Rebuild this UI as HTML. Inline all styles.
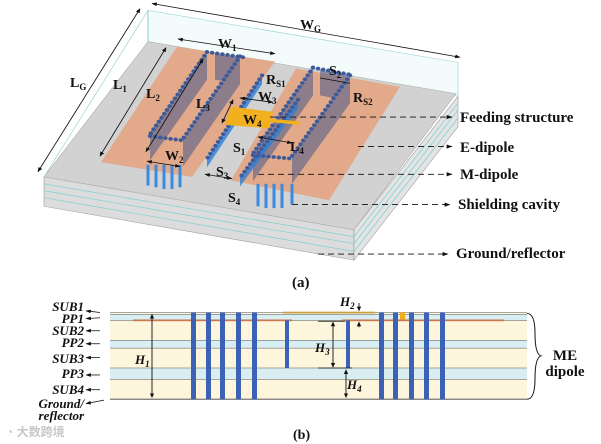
<!DOCTYPE html>
<html><head><meta charset="utf-8"><style>
body{margin:0;background:#fff}
svg{display:block}
text{font-family:"Liberation Serif",serif;font-weight:bold;fill:#111}
</style></head><body>
<svg width="601" height="444" viewBox="0 0 601 444" xmlns="http://www.w3.org/2000/svg">
<defs>
<marker id="a" viewBox="0 0 10 10" refX="9" refY="5" markerWidth="6" markerHeight="6" orient="auto"><path d="M0,1 L10,5 L0,9z" fill="#111"/></marker>
<marker id="b" viewBox="0 0 10 10" refX="1" refY="5" markerWidth="6" markerHeight="6" orient="auto"><path d="M10,1 L0,5 L10,9z" fill="#111"/></marker>
</defs>
<g transform="scale(1,0.867)">
<polygon points="44,204 354,265 354,300 44,238" fill="#dcdcdc" stroke="#999" stroke-width="0.6"/>
<polygon points="354,265 458,111 458,146 354,300" fill="#e4e4e4" stroke="#999" stroke-width="0.6"/>
<g stroke="#7fd0d0" stroke-width="0.8" fill="none">
<polyline points="44,212 354,273 458,119"/><polyline points="44,220 354,281 458,127"/><polyline points="44,228 354,290 458,136"/>
<polyline points="148,20 458,78"/><polyline points="148,28 458,86"/><polyline points="148,36 458,94"/><polyline points="148,42 458,100"/>
</g>
<polygon points="148,12 458,72 458,111 148,48" fill="#f4fbfb" stroke="#8cc" stroke-width="0.6"/>
<line x1="148" y1="12" x2="148" y2="48" stroke="#8cc"/>
<polygon points="148,48 456,108 354,265 44,204" fill="#d2d2d2" stroke="#aaa" stroke-width="0.6"/>
<line x1="148" y1="12" x2="44" y2="204" stroke="#8cc" stroke-width="0.6"/>
<polygon points="177,54 275,71 192,204 101,187" fill="#e2a98a"/>
<polygon points="296,79 400,100 329,231 231,208" fill="#e2a98a"/>
<g fill="#55608a" opacity="0.6">
<polygon points="207,60 150,153 150,185 207,92"/>
<polygon points="240,65 183,160 183,192 240,97"/>
<polygon points="313,78 253,177 253,209 313,110"/>
<polygon points="350,87 292,180 292,212 350,119"/>
<polygon points="215,62 238,66 238,96 215,92"/>
<polygon points="320,80 348,86 348,116 320,110"/>
</g>
<g fill="#2e7fd6" opacity="0.8">
<polygon points="262,87 207,183 207,193 262,97"/>
<polygon points="298,115 240,205 240,215 298,125"/>
</g>
<g stroke="#3a8be0" stroke-width="3">
<line x1="148" y1="190" x2="148" y2="214"/><line x1="156" y1="190" x2="156" y2="216"/><line x1="164" y1="190" x2="164" y2="218"/><line x1="172" y1="190" x2="172" y2="218"/><line x1="180" y1="190" x2="180" y2="216"/>
<line x1="258" y1="212" x2="258" y2="238"/><line x1="266" y1="212" x2="266" y2="240"/><line x1="274" y1="212" x2="274" y2="240"/><line x1="282" y1="212" x2="282" y2="240"/><line x1="292" y1="212" x2="292" y2="236"/>
</g>
<g stroke="#3d5a9a" stroke-width="4.5" stroke-linecap="round" stroke-dasharray="0 5.2" fill="none">
<line x1="207" y1="60" x2="150" y2="155"/>
<line x1="240" y1="65" x2="183" y2="160"/>
<line x1="207" y1="60" x2="243" y2="66"/>
<line x1="150" y1="157" x2="183" y2="162"/>
<line x1="313" y1="78" x2="253" y2="177"/>
<line x1="350" y1="87" x2="292" y2="180"/>
<line x1="313" y1="78" x2="350" y2="86"/>
<line x1="253" y1="179" x2="292" y2="183"/>
<line x1="262" y1="87" x2="207" y2="183"/>
<line x1="298" y1="115" x2="240" y2="205"/>
</g>
<polygon points="231,123 273,129 269,148 225,144" fill="#f2b01e"/>
<polygon points="270,137 300,140 300,144 270,141" fill="#f2b01e"/>
<g stroke="#111" stroke-width="0.9" fill="none">
<line x1="152" y1="4" x2="460" y2="66" marker-start="url(#b)" marker-end="url(#a)"/>
<line x1="140" y1="10" x2="38" y2="198" marker-start="url(#b)" marker-end="url(#a)"/>
<line x1="178" y1="45" x2="275" y2="62" marker-start="url(#b)" marker-end="url(#a)"/>
<line x1="166" y1="55" x2="100" y2="180" marker-start="url(#b)" marker-end="url(#a)"/>
<line x1="203" y1="68" x2="146" y2="175" marker-start="url(#b)" marker-end="url(#a)"/>
<line x1="233" y1="115" x2="222" y2="142" marker-start="url(#b)" marker-end="url(#a)"/>
<line x1="240" y1="113" x2="273" y2="118" marker-start="url(#b)" marker-end="url(#a)"/>
<line x1="147" y1="186" x2="180" y2="192" marker-start="url(#b)" marker-end="url(#a)"/>
<line x1="205" y1="201" x2="232" y2="206" marker-start="url(#b)" marker-end="url(#a)"/>
<line x1="258" y1="158" x2="292" y2="165" marker-start="url(#b)" marker-end="url(#a)"/>
<line x1="320" y1="90" x2="350" y2="96"/>
</g>
<g stroke="#111" stroke-width="1" stroke-dasharray="6 4" fill="none">
<line x1="270" y1="135" x2="452" y2="135" marker-end="url(#a)"/>
<line x1="358" y1="169" x2="452" y2="169" marker-end="url(#a)"/>
<line x1="258" y1="201" x2="452" y2="201" marker-end="url(#a)"/>
<line x1="292" y1="236" x2="450" y2="236" marker-end="url(#a)"/>
<line x1="318" y1="293" x2="448" y2="293" marker-end="url(#a)"/>
</g>
</g>
<g font-size="14">
<text x="300" y="29">W<tspan font-size="9" dy="3">G</tspan></text>
<text x="70" y="87">L<tspan font-size="9" dy="3">G</tspan></text>
<text x="218" y="48">W<tspan font-size="9" dy="3">1</tspan></text>
<text x="113" y="89">L<tspan font-size="9" dy="3">1</tspan></text>
<text x="146" y="98">L<tspan font-size="9" dy="3">2</tspan></text>
<text x="196" y="108">L<tspan font-size="9" dy="3">3</tspan></text>
<text x="258" y="101">W<tspan font-size="9" dy="3">3</tspan></text>
<text x="243" y="124">W<tspan font-size="9" dy="3">4</tspan></text>
<text x="290" y="151">L<tspan font-size="9" dy="3">4</tspan></text>
<text x="165" y="160">W<tspan font-size="9" dy="3">2</tspan></text>
<text x="233" y="152">S<tspan font-size="9" dy="3">1</tspan></text>
<text x="216" y="176">S<tspan font-size="9" dy="3">3</tspan></text>
<text x="228" y="202">S<tspan font-size="9" dy="3">4</tspan></text>
<text x="329" y="75">S<tspan font-size="9" dy="3">2</tspan></text>
<text x="266" y="84">R<tspan font-size="9" dy="3">S1</tspan></text>
<text x="353" y="102">R<tspan font-size="9" dy="3">S2</tspan></text>
</g>
<g font-size="15">
<text x="460" y="122">Feeding structure</text>
<text x="460" y="152">E-dipole</text>
<text x="460" y="179">M-dipole</text>
<text x="458" y="209">Shielding cavity</text>
<text x="456" y="258">Ground/reflector</text>
</g>
<text x="292" y="287" font-size="15" font-weight="normal">(a)</text>

<g transform="translate(0,290) scale(1,0.867) translate(0,-290)">
<rect x="110" y="316" width="417" height="100" fill="#fdf5dc"/>
<rect x="110" y="318" width="417" height="7" fill="#d8eef2"/>
<rect x="110" y="348" width="417" height="9" fill="#d8eef2"/>
<rect x="110" y="380" width="417" height="13" fill="#d8eef2"/>
<g stroke="#555" stroke-width="0.6">
<line x1="110" y1="316" x2="527" y2="316"/><line x1="110" y1="318" x2="527" y2="318"/><line x1="110" y1="325" x2="527" y2="325"/>
<line x1="110" y1="348" x2="527" y2="348"/><line x1="110" y1="357" x2="527" y2="357"/><line x1="110" y1="380" x2="527" y2="380"/><line x1="110" y1="393" x2="527" y2="393"/>
</g>
<line x1="110" y1="416" x2="527" y2="416" stroke="#777" stroke-width="1.5"/>
<rect x="133" y="324" width="159" height="2" fill="#c9794f"/>
<rect x="342" y="324" width="162" height="2" fill="#c9794f"/>
<rect x="283" y="315" width="92" height="2" fill="#c9a040"/>
<rect x="400" y="316" width="5" height="8" fill="#f2b01e"/>
<g fill="#3b62b4">
<rect x="191" y="316" width="5" height="100"/><rect x="206" y="316" width="5" height="100"/><rect x="220" y="316" width="5" height="100"/><rect x="236" y="316" width="5" height="100"/><rect x="252" y="316" width="5" height="100"/>
<rect x="379" y="316" width="5" height="100"/><rect x="393" y="316" width="5" height="100"/><rect x="409" y="316" width="5" height="100"/><rect x="424" y="316" width="5" height="100"/><rect x="440" y="316" width="5" height="100"/>
<rect x="285" y="325" width="4" height="55"/><rect x="346" y="325" width="4" height="55"/>
</g>
<g stroke="#111" stroke-width="0.9">
<line x1="152" y1="318" x2="152" y2="414" marker-start="url(#b)" marker-end="url(#a)"/>
<line x1="333" y1="327" x2="333" y2="379" marker-start="url(#b)" marker-end="url(#a)"/>
<line x1="346" y1="382" x2="346" y2="414" marker-start="url(#b)" marker-end="url(#a)"/>
<line x1="318" y1="326" x2="345" y2="326"/><line x1="318" y1="380" x2="352" y2="380"/>
<line x1="359" y1="305" x2="359" y2="314" marker-end="url(#a)"/><line x1="359" y1="333" x2="359" y2="327" marker-end="url(#a)"/>
</g>
<g stroke="#111" stroke-width="0.9">
<line x1="100" y1="316" x2="86" y2="314" marker-end="url(#a)"/><line x1="100" y1="322" x2="86" y2="323" marker-end="url(#a)"/>
<line x1="100" y1="337" x2="86" y2="337" marker-end="url(#a)"/><line x1="100" y1="352" x2="86" y2="352" marker-end="url(#a)"/>
<line x1="100" y1="368" x2="86" y2="368" marker-end="url(#a)"/><line x1="100" y1="388" x2="86" y2="388" marker-end="url(#a)"/>
<line x1="100" y1="405" x2="86" y2="405" marker-end="url(#a)"/><line x1="104" y1="417" x2="86" y2="421" marker-end="url(#a)"/>
</g>
<path d="M527,317 Q535,317 535,340 Q535,364 541,366 Q535,368 535,392 Q535,416 527,416" stroke="#111" fill="none" stroke-width="1"/>
</g>
<g font-size="13" font-style="italic">
<text x="135" y="364">H<tspan font-size="9" dy="3">1</tspan></text>
<text x="340" y="306">H<tspan font-size="9" dy="3">2</tspan></text>
<text x="315" y="352">H<tspan font-size="9" dy="3">3</tspan></text>
<text x="347" y="389">H<tspan font-size="9" dy="3">4</tspan></text>
</g>
<g font-size="13" font-style="italic" text-anchor="end">
<text x="84" y="311">SUB1</text><text x="84" y="323">PP1</text><text x="84" y="335">SUB2</text><text x="84" y="347">PP2</text>
<text x="84" y="363">SUB3</text><text x="84" y="378">PP3</text><text x="84" y="394">SUB4</text><text x="84" y="408">Ground/</text><text x="84" y="420">reflector</text>
</g>
<g font-size="15" text-anchor="middle"><text x="565" y="360">ME</text><text x="565" y="376">dipole</text></g>
<text x="6" y="436" font-size="12" font-weight="normal" style="fill:#c8c8c8;font-family:'Liberation Sans','Noto Sans CJK SC',sans-serif">◔ 大数跨境</text>
<text x="293" y="439" font-size="14" font-weight="normal">(b)</text>
</svg>
</body></html>
